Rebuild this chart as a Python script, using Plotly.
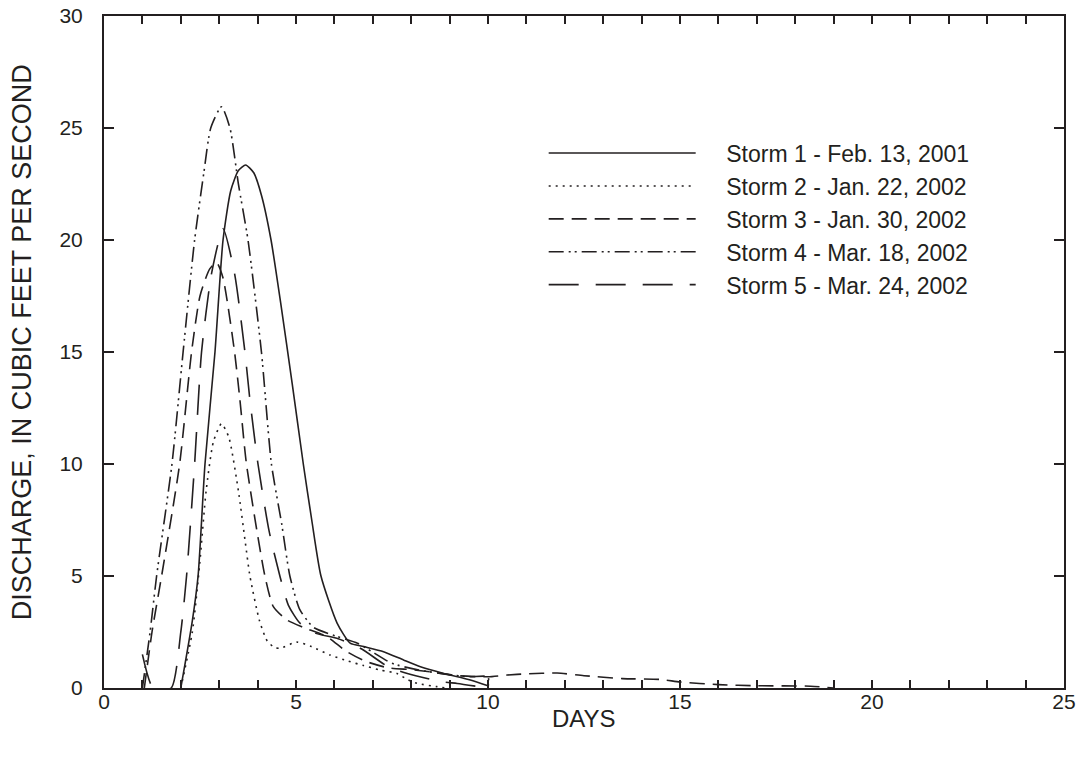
import plotly.graph_objects as go

# ---- data ----
storm1_x = [2.0, 2.3, 2.45, 2.63, 2.89, 3.1, 3.3, 3.5, 3.69, 3.9, 4.1, 4.35, 4.6, 4.9, 5.19, 5.41, 5.65, 6.07, 6.41, 6.76, 7.28, 7.8, 8.24, 8.85, 9.54, 10.0]
storm1_y = [0.0, 3.0, 5.0, 10.0, 15.0, 20.0, 22.2, 23.1, 23.35, 23.0, 22.0, 20.0, 17.2, 13.6, 10.0, 7.5, 5.0, 2.9, 2.0, 1.85, 1.62, 1.25, 0.95, 0.65, 0.36, 0.1]

storm2_x = [2.0, 2.3, 2.49, 2.66, 2.85, 3.06, 3.25, 3.5, 3.68, 3.8, 4.05, 4.25, 4.45, 4.6, 5.02, 5.4, 5.89, 6.36, 6.76, 7.2, 7.63, 7.89, 8.15, 8.67, 8.9]
storm2_y = [0.0, 2.5, 5.5, 8.8, 11.0, 11.8, 11.2, 8.8, 6.5, 5.0, 3.0, 2.1, 1.8, 1.78, 2.05, 1.85, 1.47, 1.2, 1.0, 0.8, 0.65, 0.39, 0.21, 0.06, 0.0]

storm3_x = [1.05, 1.25, 1.5, 1.97, 2.28, 2.5, 2.75, 2.93, 3.1, 3.4, 3.54, 3.71, 4.19, 4.41, 4.76, 5.2, 5.8, 6.3, 6.8, 7.4, 8.0, 8.5, 9.2, 10.0, 10.5, 11.0, 11.8, 12.5, 13.5, 14.5, 15.0, 16.0, 17.0, 18.4, 19.0]
storm3_y = [0.0, 2.5, 5.0, 10.0, 15.0, 17.5, 18.7, 19.0, 18.3, 15.0, 12.86, 10.0, 5.0, 3.63, 3.04, 2.7, 2.3, 1.65, 1.2, 0.9, 0.82, 0.72, 0.55, 0.5, 0.58, 0.63, 0.67, 0.55, 0.42, 0.38, 0.27, 0.15, 0.1, 0.08, 0.0]

storm4_x = [1.0, 1.2, 1.37, 1.77, 2.06, 2.36, 2.6, 2.78, 3.06, 3.28, 3.5, 3.75, 4.1, 4.36, 4.63, 4.84, 5.1, 5.46, 6.07, 6.6, 7.0, 7.5, 8.2, 9.0, 9.5, 10.0, 10.0]
storm4_y = [0.0, 2.5, 5.0, 10.0, 15.0, 20.0, 23.0, 25.0, 25.95, 25.0, 22.5, 20.0, 15.0, 10.0, 7.3, 5.0, 3.5, 2.7, 2.3, 2.0, 1.6, 1.1, 0.8, 0.6, 0.5, 0.5, 0.0]

storm5_x = [1.0, 1.28, 1.75, 2.0, 2.15, 2.36, 2.54, 2.8, 3.1, 3.4, 3.67, 3.8, 4.01, 4.3, 4.58, 4.8, 5.1, 5.5, 6.1, 6.7, 7.4, 7.9, 8.8, 9.2, 10.0]
storm5_y = [1.5, 0.0, 0.0, 2.5, 5.0, 10.0, 15.0, 18.5, 20.5, 18.5, 15.0, 12.86, 10.0, 7.0, 5.0, 3.7, 2.9, 2.45, 2.2, 1.75, 0.95, 0.65, 0.28, 0.2, 0.0]

names = ["Storm 1 - Feb. 13, 2001", "Storm 2 - Jan. 22, 2002", "Storm 3 - Jan. 30, 2002",
         "Storm 4 - Mar. 18, 2002", "Storm 5 - Mar. 24, 2002"]
xs = [storm1_x, storm2_x, storm3_x, storm4_x, storm5_x]
ys = [storm1_y, storm2_y, storm3_y, storm4_y, storm5_y]
dashes = ["solid", "2px,5px", "15px,8px", "15px,5px,2px,4px,2px,5px", "30px,17px"]

x_ticks = [0, 5, 10, 15, 20, 25]
y_ticks = [0, 5, 10, 15, 20, 25, 30]
x_title = "DAYS"
y_title = "DISCHARGE, IN CUBIC FEET PER SECOND"

FONT = "Liberation Sans, Arial, sans-serif"
INK = "#231f20"
PAD = "\u00a0" * 4

fig = go.Figure()
for i in range(5):
    fig.add_trace(go.Scatter(
        x=xs[i], y=ys[i], mode="lines", name=PAD + names[i], legendgroup=f"g{i}",
        line=dict(color=INK, width=1.6, dash=dashes[i], shape="spline", smoothing=0.6),
        hoverinfo="skip",
    ))

fig.update_layout(
    width=1079, height=760,
    margin=dict(l=104, r=15, t=16, b=72, autoexpand=False),
    paper_bgcolor="white", plot_bgcolor="white",
    font=dict(family=FONT, color=INK, size=21),
    showlegend=True,
    legend=dict(x=0.458, y=0.828, xanchor="left", yanchor="top",
                bgcolor="rgba(0,0,0,0)", borderwidth=0,
                font=dict(size=23, family=FONT, color=INK),
                itemwidth=147, tracegroupgap=7, traceorder="normal"),
    annotations=[
        dict(text=x_title, xref="paper", yref="paper", x=0.5, y=-0.046,
             xanchor="center", yanchor="middle", showarrow=False,
             font=dict(size=24, family=FONT, color=INK)),
        dict(text=y_title, xref="paper", yref="paper", x=-0.085, y=0.515,
             xanchor="center", yanchor="middle", showarrow=False, textangle=-90,
             font=dict(size=27, family=FONT, color=INK)),
    ],
)
fig.update_xaxes(
    range=[0, 25], tickvals=x_ticks, ticktext=[str(v) for v in x_ticks],
    ticks="inside", ticklen=8, tickwidth=1.5, tickcolor=INK,
    minor=dict(dtick=1, ticks="inside", ticklen=8, tickwidth=1.5, tickcolor=INK, showgrid=False),
    showline=True, linewidth=2, linecolor=INK, mirror="ticks",
    showgrid=False, zeroline=False, automargin=False,
    tickfont=dict(size=21, family=FONT), ticklabelstandoff=-6,
)
fig.update_yaxes(
    range=[0, 30], tickvals=y_ticks, ticktext=[str(v) for v in y_ticks],
    ticks="inside", ticklen=10, tickwidth=1.5, tickcolor=INK,
    showline=True, linewidth=2, linecolor=INK, mirror="ticks",
    showgrid=False, zeroline=False, automargin=False,
    tickfont=dict(size=21, family=FONT), ticklabelstandoff=15,
)

fig.write_html(
    "out.html",
    config={"displayModeBar": False},
    post_script="document.documentElement.style.overflow='hidden';"
                "document.body.style.margin='0';document.body.style.overflow='hidden';",
)
